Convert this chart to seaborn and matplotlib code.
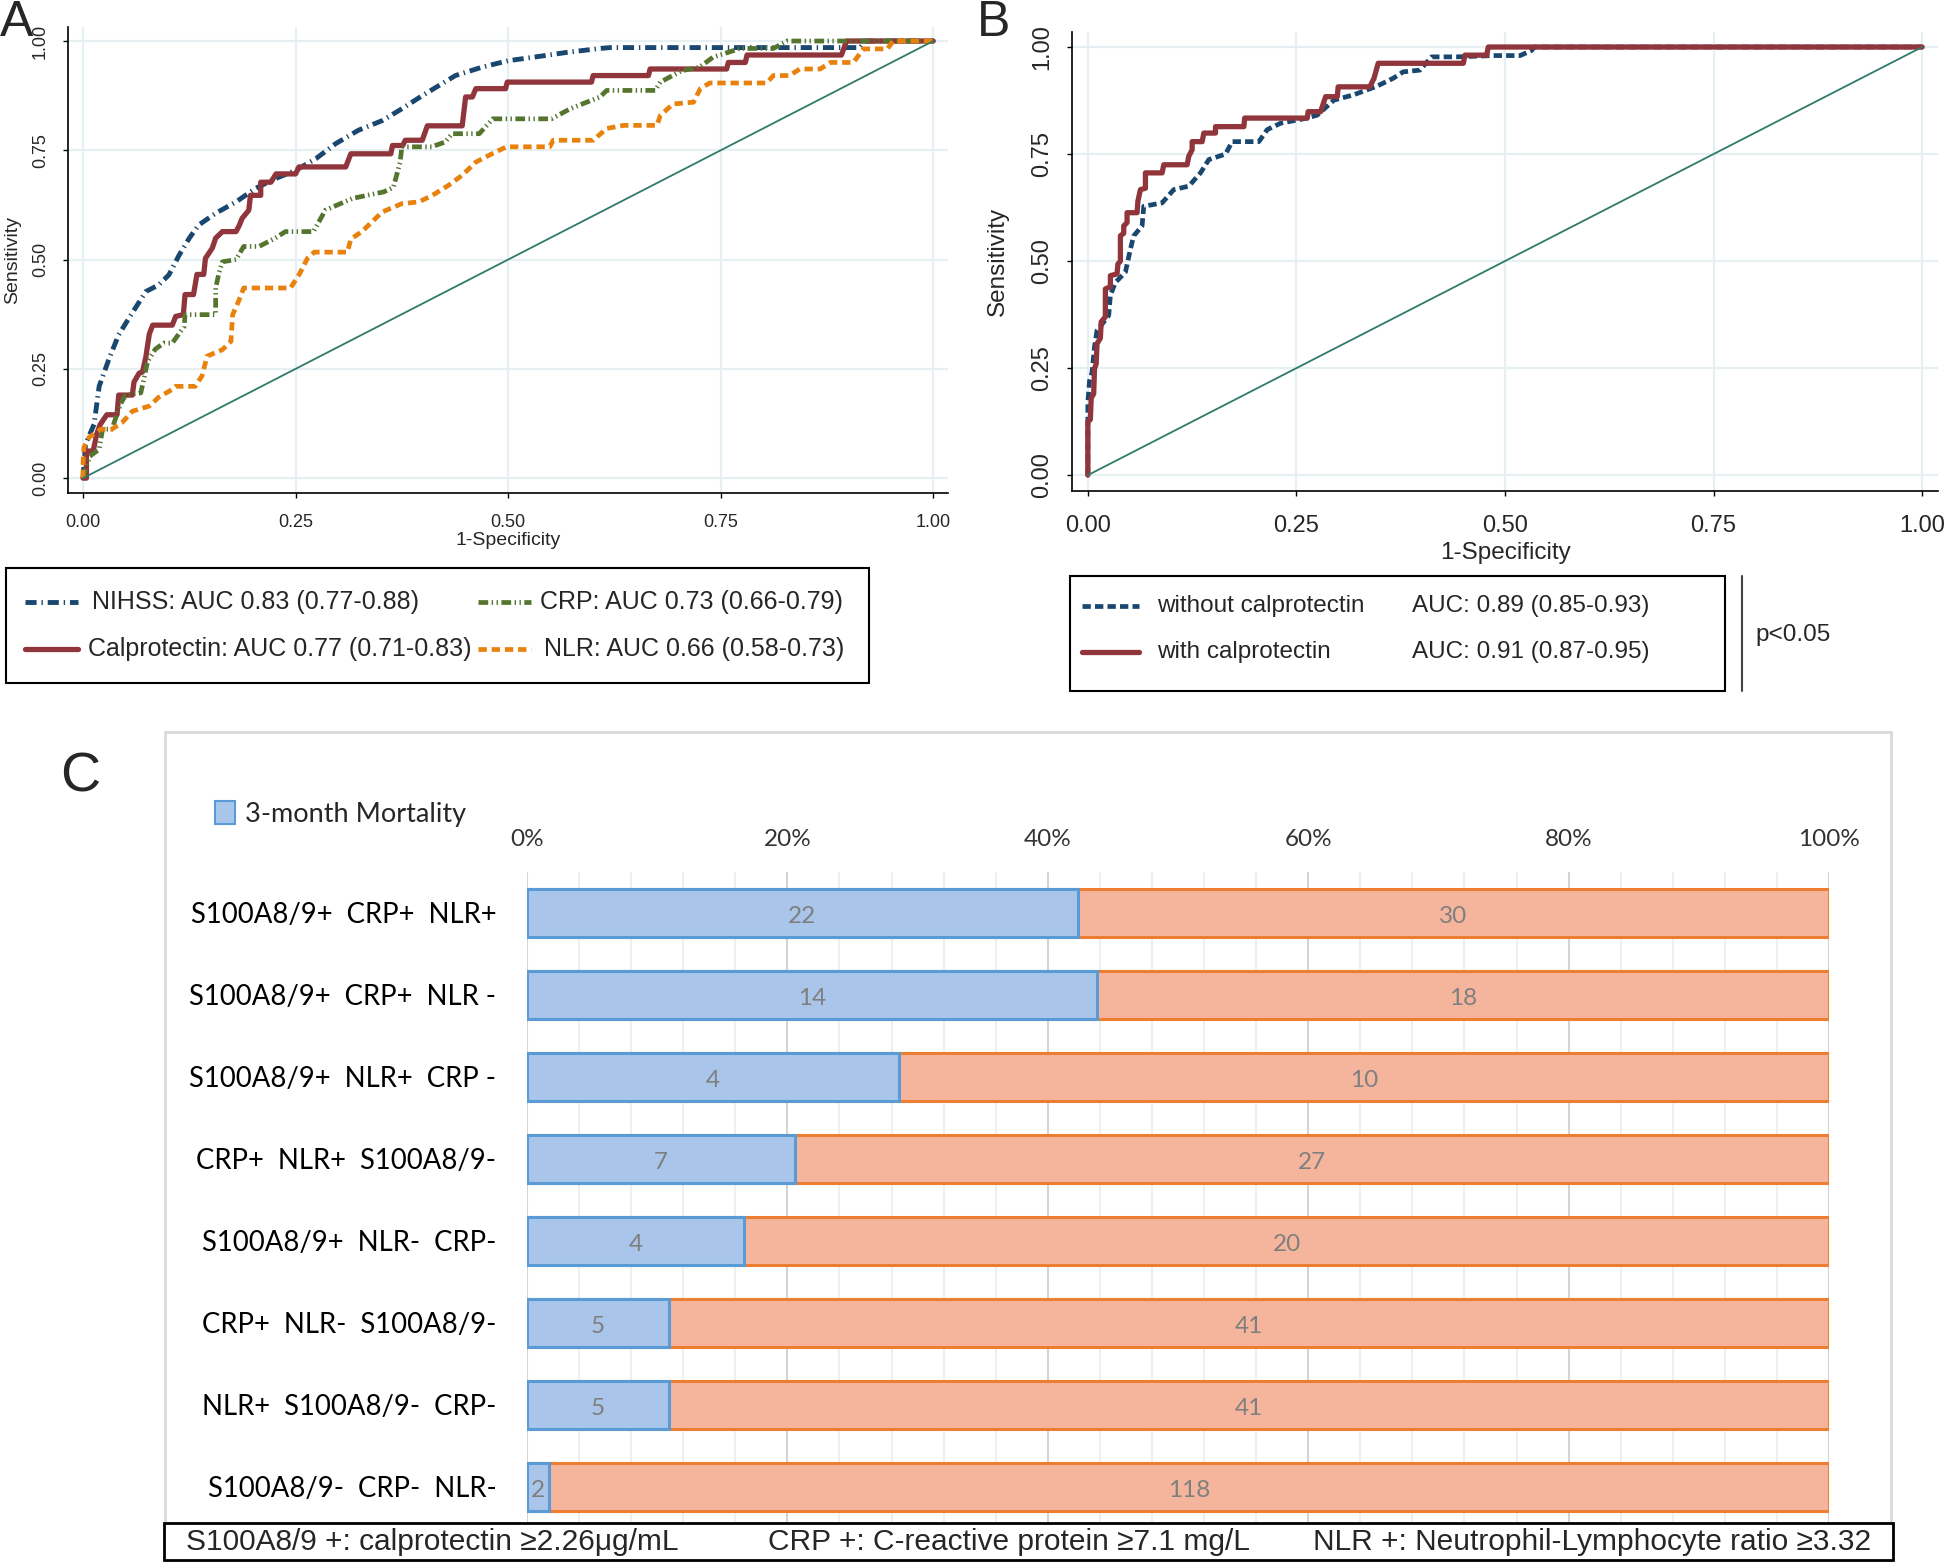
import numpy as np
import pandas as pd
import matplotlib
matplotlib.use("Agg")
import matplotlib.pyplot as plt
import seaborn as sns
from matplotlib.lines import Line2D
from matplotlib.patches import Rectangle, Patch

# ---------------- data ----------------
# Panel A ROC curves (1-specificity, sensitivity)
nihss_fpr = [0, 0.003, 0.013, 0.019, 0.031, 0.042, 0.054, 0.074, 0.089, 0.101, 0.113, 0.125, 0.136, 0.156,
             0.18, 0.203, 0.226, 0.25, 0.274, 0.297, 0.324, 0.352, 0.375, 0.399, 0.438, 0.469, 0.5, 0.53,
             0.569, 0.608, 0.62, 0.914, 0.92, 1.0]
nihss_tpr = [0, 0.078, 0.123, 0.21, 0.275, 0.328, 0.366, 0.427, 0.442, 0.465, 0.51, 0.549, 0.579, 0.606,
             0.632, 0.663, 0.685, 0.704, 0.731, 0.765, 0.796, 0.818, 0.845, 0.875, 0.921, 0.94, 0.955, 0.963,
             0.974, 0.983, 0.985, 0.985, 1.0, 1.0]

calpro_fpr = [0, 0.004, 0.004, 0.012, 0.016, 0.020, 0.028, 0.040, 0.042, 0.058, 0.060, 0.066, 0.070, 0.074,
              0.078, 0.082, 0.105, 0.109, 0.118, 0.120, 0.130, 0.134, 0.142, 0.144, 0.152, 0.156, 0.164, 0.180,
              0.184, 0.187, 0.195, 0.197, 0.209, 0.209, 0.221, 0.227, 0.250, 0.254, 0.309, 0.315, 0.362, 0.364,
              0.376, 0.379, 0.399, 0.405, 0.446, 0.450, 0.458, 0.462, 0.497, 0.499, 0.598, 0.600, 0.665, 0.667,
              0.757, 0.759, 0.779, 0.781, 0.892, 0.898, 1.0]
calpro_tpr = [0, 0.000, 0.062, 0.062, 0.100, 0.122, 0.145, 0.145, 0.190, 0.190, 0.220, 0.240, 0.243, 0.278,
              0.330, 0.350, 0.350, 0.370, 0.374, 0.420, 0.420, 0.466, 0.466, 0.503, 0.526, 0.549, 0.564, 0.564,
              0.579, 0.594, 0.613, 0.647, 0.647, 0.677, 0.677, 0.696, 0.696, 0.712, 0.712, 0.742, 0.742, 0.761,
              0.761, 0.773, 0.773, 0.806, 0.806, 0.872, 0.872, 0.891, 0.891, 0.906, 0.906, 0.921, 0.921, 0.936,
              0.936, 0.951, 0.951, 0.968, 0.968, 1.0, 1.0]

crp_fpr = [0, 0.003, 0.008, 0.019, 0.023, 0.034, 0.044, 0.05, 0.068, 0.076, 0.085, 0.095, 0.105, 0.119, 0.12,
           0.156, 0.156, 0.160, 0.164, 0.18, 0.189, 0.207, 0.226, 0.238, 0.271, 0.285, 0.317, 0.354, 0.365,
           0.373, 0.375, 0.41, 0.426, 0.434, 0.466, 0.482, 0.551, 0.573, 0.608, 0.616, 0.673, 0.679, 0.704,
           0.725, 0.741, 0.773, 0.812, 0.828, 1.0]
crp_tpr = [0, 0.02, 0.05, 0.066, 0.112, 0.112, 0.169, 0.19, 0.195, 0.267, 0.295, 0.309, 0.309, 0.347, 0.374,
           0.374, 0.435, 0.47, 0.495, 0.5, 0.53, 0.53, 0.549, 0.564, 0.564, 0.613, 0.64, 0.655, 0.665,
           0.723, 0.758, 0.758, 0.769, 0.788, 0.788, 0.822, 0.822, 0.845, 0.872, 0.887, 0.887, 0.906, 0.932,
           0.94, 0.963, 0.983, 0.983, 1.0, 1.0]

nlr_fpr = [0, 0.0, 0.001, 0.007, 0.021, 0.034, 0.046, 0.058, 0.078, 0.089, 0.105, 0.109, 0.132, 0.14, 0.146,
           0.164, 0.174, 0.176, 0.183, 0.189, 0.244, 0.254, 0.264, 0.272, 0.311, 0.315, 0.328, 0.352, 0.375,
           0.395, 0.411, 0.43, 0.446, 0.462, 0.481, 0.498, 0.549, 0.553, 0.6, 0.616, 0.636, 0.675, 0.679,
           0.694, 0.718, 0.726, 0.737, 0.804, 0.812, 0.831, 0.843, 0.867, 0.879, 0.906, 0.918, 0.946, 0.953, 1.0]
nlr_tpr = [0, 0.03, 0.07, 0.093, 0.112, 0.112, 0.127, 0.153, 0.165, 0.185, 0.203, 0.21, 0.21, 0.234, 0.279,
           0.294, 0.313, 0.374, 0.405, 0.435, 0.435, 0.465, 0.503, 0.517, 0.517, 0.547, 0.564, 0.609, 0.628,
           0.632, 0.647, 0.67, 0.693, 0.723, 0.742, 0.758, 0.758, 0.773, 0.773, 0.8, 0.807, 0.807, 0.83,
           0.856, 0.86, 0.891, 0.904, 0.904, 0.921, 0.921, 0.936, 0.936, 0.951, 0.951, 0.982, 0.982, 1.0, 1.0]

labels_A = ["NIHSS: AUC 0.83 (0.77-0.88)", "Calprotectin: AUC 0.77 (0.71-0.83)",
            "CRP: AUC 0.73 (0.66-0.79)", "NLR: AUC 0.66 (0.58-0.73)"]

# Panel B ROC curves
with_fpr = [0, 0, 0.003, 0.004, 0.007, 0.008, 0.01, 0.011, 0.015, 0.016, 0.021, 0.021, 0.027, 0.027, 0.035,
            0.036, 0.039, 0.039, 0.043, 0.043, 0.047, 0.047, 0.059, 0.06, 0.063, 0.069, 0.069, 0.089, 0.091,
            0.119, 0.121, 0.125, 0.125, 0.137, 0.139, 0.153, 0.153, 0.187, 0.188, 0.263, 0.264, 0.279, 0.285,
            0.299, 0.3, 0.338, 0.343, 0.348, 0.45, 0.452, 0.478, 0.48, 1.0]
with_tpr = [0, 0.125, 0.13, 0.18, 0.19, 0.249, 0.26, 0.307, 0.32, 0.358, 0.37, 0.435, 0.44, 0.466, 0.47,
            0.493, 0.5, 0.559, 0.565, 0.582, 0.59, 0.613, 0.613, 0.64, 0.667, 0.67, 0.706, 0.706, 0.725,
            0.725, 0.745, 0.76, 0.779, 0.779, 0.799, 0.799, 0.814, 0.814, 0.834, 0.834, 0.849, 0.849, 0.884,
            0.884, 0.907, 0.907, 0.927, 0.962, 0.962, 0.981, 0.981, 1.0, 1.0]

without_fpr = [0, 0, 0.002, 0.005, 0.008, 0.011, 0.016, 0.025, 0.027, 0.033, 0.045, 0.051, 0.055, 0.065, 0.067,
               0.089, 0.103, 0.121, 0.135, 0.145, 0.165, 0.173, 0.205, 0.215, 0.231, 0.263, 0.275, 0.295, 0.318,
               0.346, 0.366, 0.378, 0.398, 0.412, 0.442, 0.486, 0.518, 0.532, 0.535, 1.0]
without_tpr = [0, 0.17, 0.22, 0.24, 0.3, 0.338, 0.35, 0.373, 0.42, 0.45, 0.474, 0.528, 0.559, 0.582, 0.628,
               0.636, 0.667, 0.675, 0.706, 0.737, 0.75, 0.779, 0.779, 0.807, 0.822, 0.834, 0.841, 0.876, 0.888,
               0.908, 0.927, 0.942, 0.946, 0.977, 0.977, 0.98, 0.98, 0.992, 1.0, 1.0]

labels_B = ["without calprotectin", "with calprotectin"]
auc_B = ["AUC: 0.89 (0.85-0.93)", "AUC: 0.91 (0.87-0.95)"]

ref_x = [0, 1]
ref_y = [0, 1]

roc_ticks = [0, 0.25, 0.5, 0.75, 1.0]
roc_ticklabels = ["0.00", "0.25", "0.50", "0.75", "1.00"]

# Panel C
groups = ["S100A8/9+  CRP+  NLR+", "S100A8/9+  CRP+  NLR -", "S100A8/9+  NLR+  CRP -",
          "CRP+  NLR+  S100A8/9-", "S100A8/9+  NLR-  CRP-", "CRP+  NLR-  S100A8/9-",
          "NLR+  S100A8/9-  CRP-", "S100A8/9-  CRP-  NLR-"]
dead = [22, 14, 4, 7, 4, 5, 5, 2]
alive = [30, 18, 10, 27, 20, 41, 41, 118]
pct_ticks = [0, 0.2, 0.4, 0.6, 0.8, 1.0]
pct_labels = ["0%", "20%", "40%", "60%", "80%", "100%"]
footnotes = ["S100A8/9 +: calprotectin \u22652.26\u03bcg/mL", "CRP +: C-reactive protein \u22657.1 mg/L",
             "NLR +: Neutrophil-Lymphocyte ratio \u22653.32"]

# ---------------- style ----------------
sns.set_theme(style="white")
plt.rcParams['font.family'] = ['Liberation Sans', 'DejaVu Sans']
plt.rcParams['lines.scale_dashes'] = False

C_NAVY = '#1a476f'
C_MAROON = '#90353b'
C_GREEN = '#55752f'
C_ORANGE = '#e8820c'
C_DIAG = '#2f7a68'
C_GRID = '#e6f0f2'

LS_NIHSS = (0, (8, 3.5, 1, 3.5))
LS_CRP = (0, (7, 2.5, 1, 2.5, 1, 2.5))
LS_NLR = (0, (6, 3.5))
LS_WITHOUT = (0, (6, 3))

W, H = 1946, 1562
fig = plt.figure(figsize=(W / 100, H / 100), dpi=100)
fig.patch.set_facecolor('white')


def fx(px):
    return px / W


def fy(py):
    return 1 - py / H


def style_roc(ax, tick_fs, lab_fs, xpad, ypad, xlabpad, ylabpad):
    ax.set_xticks(roc_ticks)
    ax.set_yticks(roc_ticks)
    ax.set_xticklabels(roc_ticklabels, fontsize=tick_fs)
    ax.set_yticklabels(roc_ticklabels, fontsize=tick_fs, rotation=90, va='center')
    ax.tick_params(axis='x', direction='out', length=3.6, width=1, color='black', pad=xpad, bottom=True)
    ax.tick_params(axis='y', direction='out', length=3.6, width=1, color='black', pad=ypad, left=True)
    for s in ['top', 'right']:
        ax.spines[s].set_visible(False)
    for s in ['left', 'bottom']:
        ax.spines[s].set_color('black')
        ax.spines[s].set_linewidth(1.2)
    ax.grid(True, color=C_GRID, lw=1.6)
    ax.set_axisbelow(True)
    ax.set_xlabel("1-Specificity", fontsize=lab_fs, labelpad=xlabpad)
    ax.set_ylabel("Sensitivity", fontsize=lab_fs, labelpad=ylabpad)


# ---------------- Panel A ----------------
axA = fig.add_axes([fx(67.7), fy(493), fx(880), (493 - 26.6) / H])
curvesA = [
    (nihss_fpr, nihss_tpr, C_NAVY, 3.5, LS_NIHSS),
    (calpro_fpr, calpro_tpr, C_MAROON, 3.8, '-'),
    (crp_fpr, crp_tpr, C_GREEN, 3.4, LS_CRP),
    (nlr_fpr, nlr_tpr, C_ORANGE, 3.4, LS_NLR),
]
for xs, ys, col, lw, ls in curvesA:
    sns.lineplot(x=xs, y=ys, ax=axA, sort=False, estimator=None, color=col, linewidth=lw,
                 linestyle=ls, legend=False)
sns.lineplot(x=ref_x, y=ref_y, ax=axA, sort=False, estimator=None, color=C_DIAG, linewidth=1.3, legend=False)
axA.set_xlim(-0.018, 1.017)
axA.set_ylim(-0.034, 1.033)
style_roc(axA, 13, 14, 11.5, 10, 1, 8)

# Legend A (box + entries)
fig.add_artist(Rectangle((fx(6), fy(683)), fx(863), 115 / H, transform=fig.transFigure,
                         fill=False, ec='black', lw=1.5))
legA_pos = [(25, 602, 92), (25, 649, 88), (478, 602, 540), (478, 649, 544)]
for (xs, ys, col, lw, ls), lab, (hx, hy, tx) in zip(curvesA, labels_A, legA_pos):
    fig.add_artist(Line2D([fx(hx), fx(hx + 53)], [fy(hy), fy(hy)], transform=fig.transFigure,
                          color=col, lw=lw, linestyle=ls))
    fig.text(fx(tx), fy(hy), lab, fontsize=18, va='center', ha='left')

# ---------------- Panel B ----------------
axB = fig.add_axes([fx(1072), fy(491), fx(866), 459.4 / H])
sns.lineplot(x=without_fpr, y=without_tpr, ax=axB, sort=False, estimator=None, color=C_NAVY,
             linewidth=3.4, linestyle=LS_WITHOUT, legend=False)
sns.lineplot(x=with_fpr, y=with_tpr, ax=axB, sort=False, estimator=None, color=C_MAROON,
             linewidth=3.8, legend=False)
sns.lineplot(x=ref_x, y=ref_y, ax=axB, sort=False, estimator=None, color=C_DIAG, linewidth=1.3, legend=False)
axB.set_xlim(-0.019, 1.019)
axB.set_ylim(-0.037, 1.036)
style_roc(axB, 17, 17.5, 14, 10, 3, 16)

fig.add_artist(Rectangle((fx(1070), fy(691)), fx(655), 115 / H, transform=fig.transFigure,
                         fill=False, ec='black', lw=1.5))
legB = [(C_NAVY, 3.4, LS_WITHOUT, 606), (C_MAROON, 3.8, '-', 652)]
for (col, lw, ls, hy), lab, auc in zip(legB, labels_B, auc_B):
    fig.add_artist(Line2D([fx(1082), fx(1139)], [fy(hy), fy(hy)], transform=fig.transFigure,
                          color=col, lw=lw, linestyle=ls))
    fig.text(fx(1157), fy(hy), lab, fontsize=17.5, va='center', ha='left')
    fig.text(fx(1412), fy(hy), auc, fontsize=17.5, va='center', ha='left')
fig.add_artist(Line2D([fx(1742), fx(1742)], [fy(576), fy(691)], transform=fig.transFigure,
                      color='#444444', lw=1.5))
fig.text(fx(1755), fy(635), "p<0.05", fontsize=17.5, va='center', ha='left')

# Panel letters
fig.text(fx(0), fy(23), "A", fontsize=36, va='center', ha='left')
fig.text(fx(977), fy(23), "B", fontsize=36, va='center', ha='left')
fig.text(fx(60), fy(778), "C", fontsize=40, va='center', ha='left')

# ---------------- Panel C ----------------
CFONT = ['Lato', 'DejaVu Sans']
BLUE_FILL = '#a9c6ea'
BLUE_EDGE = '#5b9bd5'
ORANGE_FILL = '#f5b59d'
ORANGE_EDGE = '#ed7d31'

totals = [d + a for d, a in zip(dead, alive)]
df = pd.DataFrame({
    "group": groups,
    "dead_frac": [d / t for d, t in zip(dead, totals)],
    "whole": [1.0] * len(groups),
})

fig.add_artist(Rectangle((fx(165), fy(1561)), fx(1891 - 165), (1561 - 732) / H, transform=fig.transFigure,
                         fill=False, ec='#d9d9d9', lw=2, zorder=0.5))

axC = fig.add_axes([fx(527), fy(1522), fx(1302), 650 / H])
sns.barplot(data=df, y="group", x="whole", orient="h", color=ORANGE_FILL, edgecolor=ORANGE_EDGE,
            linewidth=2.2, width=0.59, saturation=1, ax=axC)
sns.barplot(data=df, y="group", x="dead_frac", orient="h", color=BLUE_FILL, edgecolor=BLUE_EDGE,
            linewidth=2.2, width=0.59, saturation=1, ax=axC)
axC.set_xlim(0, 1)
axC.set_ylim(7.43, -0.5)
axC.set_xticks(pct_ticks)
axC.set_xticklabels(pct_labels, fontsize=17.5, family=CFONT, color='#333333')
axC.set_xticks(np.arange(0, 1.0001, 0.04), minor=True)
axC.xaxis.tick_top()
axC.tick_params(axis='x', which='both', length=0, pad=15.5)
axC.tick_params(axis='y', length=0, pad=22)
for lab in axC.get_yticklabels():
    lab.set_fontsize(19.8)
    lab.set_family(CFONT)
    lab.set_color('black')
axC.set_xlabel("")
axC.set_ylabel("")
for s in axC.spines.values():
    s.set_visible(False)
axC.grid(True, which='major', axis='x', color='#d4d4d4', lw=1.5)
axC.grid(True, which='minor', axis='x', color='#ececec', lw=1.2)
axC.grid(False, axis='y')
axC.set_axisbelow(True)

for i, (d, a, fr) in enumerate(zip(dead, alive, df["dead_frac"])):
    axC.text(fr / 2, i + 0.04, str(d), ha='center', va='center', fontsize=17.5, color='#7f7f7f', family=CFONT)
    axC.text(fr + (1 - fr) / 2, i + 0.04, str(a), ha='center', va='center', fontsize=17.5, color='#7f7f7f',
             family=CFONT)

fig.legend(handles=[Patch(facecolor=BLUE_FILL, edgecolor=BLUE_EDGE, lw=1.5)], labels=["3-month Mortality"],
           loc='center left', bbox_to_anchor=(fx(215), fy(814)), frameon=False, handlelength=0.75,
           handleheight=0.95, handletextpad=0.35, borderaxespad=0, borderpad=0,
           prop={'family': CFONT, 'size': 19.5})

# Footnote box
fig.add_artist(Rectangle((fx(164), fy(1560)), fx(1729), 37 / H, transform=fig.transFigure,
                         fc='white', ec='black', lw=2, zorder=2))
for txt, xp in zip(footnotes, [186, 768, 1313]):
    fig.text(fx(xp), fy(1542), txt, fontsize=21.5, va='center', ha='left', zorder=3)

fig.savefig("out.png", dpi=100, facecolor='white')
